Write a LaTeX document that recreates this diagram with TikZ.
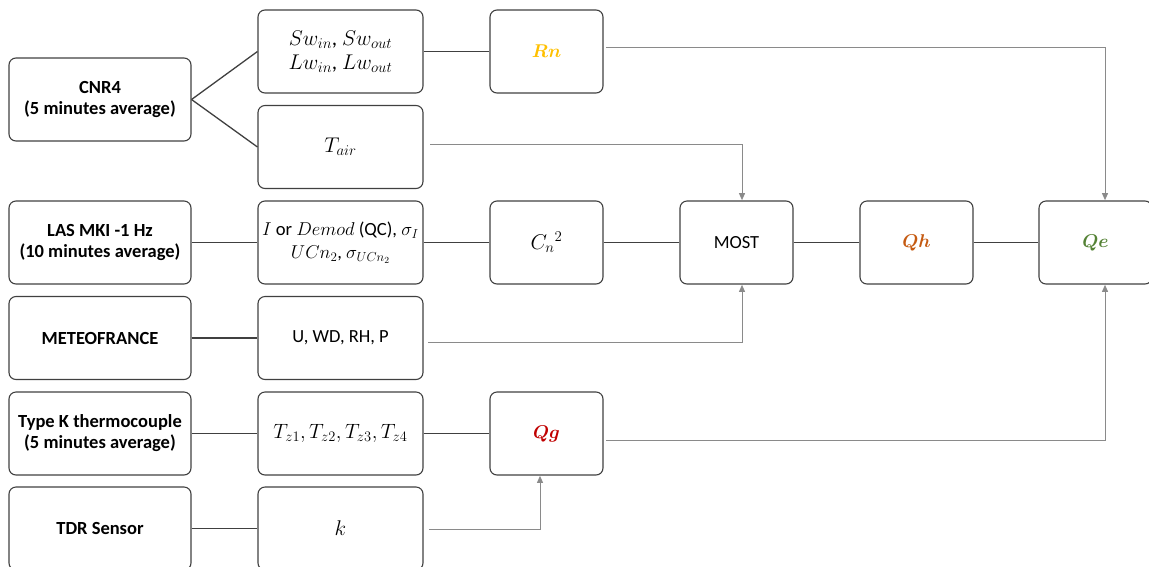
\RequirePackage{fix-cm}
\documentclass[tikz,border=0pt]{standalone}
\usepackage{amsmath,bm}
\usepackage{fontspec}
\setmainfont{Carlito}
\usetikzlibrary{arrows.meta}
\definecolor{lin}{HTML}{404040}
\definecolor{gline}{HTML}{8A8A8A}
\definecolor{cRn}{HTML}{FFC000}
\definecolor{cQh}{HTML}{C55A11}
\definecolor{cQe}{HTML}{548235}
\definecolor{cQg}{HTML}{C00000}
\begin{document}
\begin{tikzpicture}[x=1pt,y=-1pt,
  box/.style={draw=lin, line width=1.1pt, rounded corners=7pt, minimum height=83pt, inner sep=0pt, align=center, font=\fontsize{18.5}{21}\selectfont},
  src/.style={box, minimum width=182pt, font=\fontsize{18.5}{21}\selectfont\bfseries},
  mid/.style={box, minimum width=165pt},
  sml/.style={box, minimum width=113pt},
  big/.style={font=\fontsize{21.3}{24}\selectfont},
  blk/.style={draw=lin, line width=1.3pt},
  gry/.style={draw=gline, line width=0.9pt},
  arr/.style={gry, -{Triangle[length=7pt,width=6pt]}, shorten >=0.3pt}
]
\useasboundingbox (0,0) rectangle (1149,566);
% column 1
\node[src] (cnr) at (100,99.5) {CNR4\\(5 minutes average)};
\node[src] (las) at (100,242.5) {LAS MKI -1 Hz\\(10 minutes average)};
\node[src] (meteo) at (100,338) {METEOFRANCE};
\node[src] (tk) at (100,433.5) {Type K thermocouple\\(5 minutes average)};
\node[src] (tdr) at (100,528.5) {TDR Sensor};
% column 2
\node[mid, big] (sw) at (340.5,51.5) {$Sw_{in}$, $Sw_{out}$\\$Lw_{in}$, $Lw_{out}$};
\node[mid, big] (tair) at (340.5,147) {$T_{air}$};
\node[mid, font=\fontsize{18.6}{23}\selectfont] (iq) at (340.5,242.5) {$I$ or $Demod$ (QC), $\sigma_I$\\$UCn_2$, $\sigma_{UCn_2}$};
\node[mid] (u) at (340.5,338) {U, WD, RH, P};
\node[mid, font=\fontsize{20.7}{24}\selectfont] (tz) at (340.5,433.5) {$T_{z1},T_{z2},T_{z3},T_{z4}$};
\node[mid, big] (k) at (340.5,528.5) {$k$};
% column 3+
\node[sml] (rn) at (546.5,51.5) {\textcolor{cRn}{$\bm{Rn}$}};
\node[sml, big] (cn) at (546.5,242.5) {$C_n{}^2$};
\node[sml] (qg) at (546.5,433.5) {\textcolor{cQg}{$\bm{Qg}$}};
\node[sml] (most) at (736.5,242.5) {MOST};
\node[sml] (qh) at (916.5,242.5) {\textcolor{cQh}{$\bm{Qh}$}};
\node[sml] (qe) at (1095.5,242.5) {\textcolor{cQe}{$\bm{Qe}$}};
% black connectors
\draw[blk] (cnr.east) -- (sw.west);
\draw[blk] (cnr.east) -- (tair.west);
\draw[blk] (sw.east) -- (rn.west);
\draw[blk] (las.east) -- (iq.west);
\draw[blk] (iq.east) -- (cn.west);
\draw[blk] (cn.east) -- (most.west);
\draw[blk] (most.east) -- (qh.west);
\draw[blk] (qh.east) -- (qe.west);
\draw[blk] (meteo.east) -- (u.west);
\draw[blk] (tk.east) -- (tz.west);
\draw[blk] (tz.east) -- (qg.west);
\draw[blk] (tdr.east) -- (k.west);
% gray connectors
\coordinate (rnout) at (606,47);
\coordinate (tairout) at (430,144);
\coordinate (uout) at (428,342);
\coordinate (qgout) at (606,440);
\coordinate (kout) at (429,529);
\coordinate (mosttop) at ([xshift=5.5pt]most.north);
\coordinate (mostbot) at ([xshift=5.5pt]most.south);
\coordinate (qetop) at ([xshift=9.5pt]qe.north);
\coordinate (qebot) at ([xshift=9.5pt]qe.south);
\coordinate (qgbot) at ([xshift=-6.5pt]qg.south);
\draw[arr] (rnout) -| (qetop);
\draw[arr] (tairout) -| (mosttop);
\draw[arr] (uout) -| (mostbot);
\draw[arr] (qgout) -| (qebot);
\draw[arr] (kout) -| (qgbot);
\end{tikzpicture}
\end{document}
